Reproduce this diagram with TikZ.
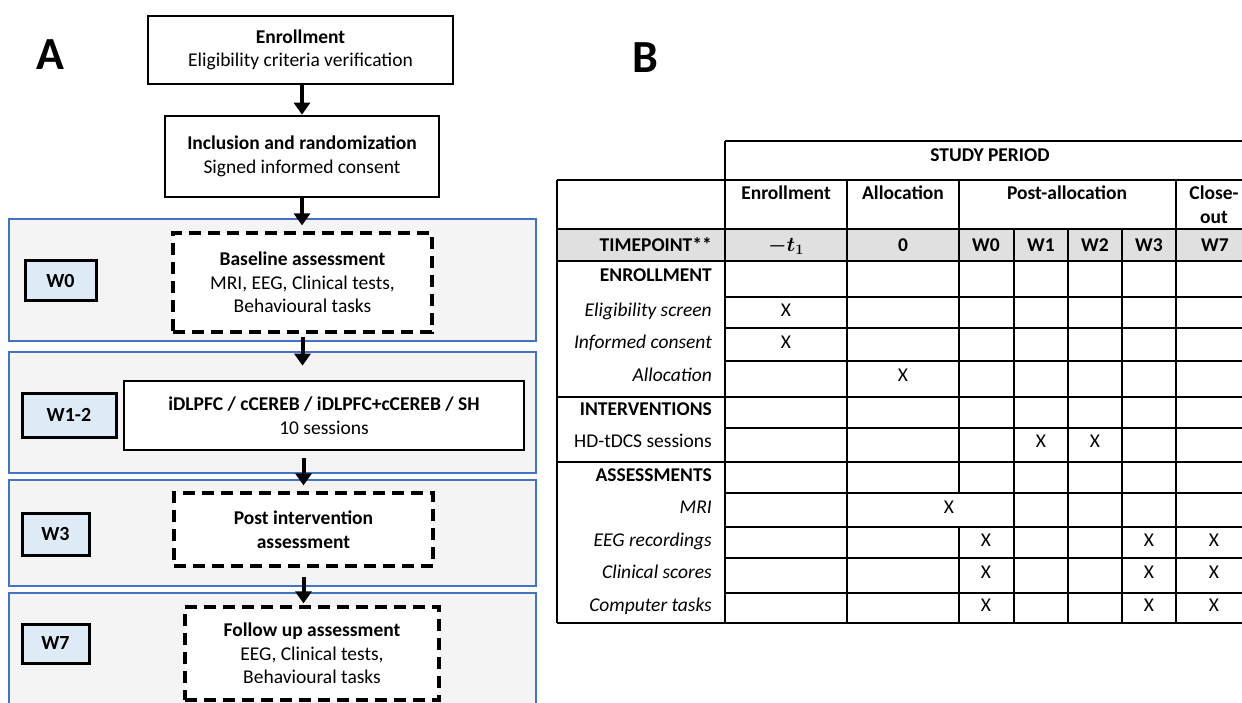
\documentclass[tikz,border=0pt]{standalone}
\usepackage{amsmath}
\usepackage{fontspec}
\setmainfont{Carlito}
\usetikzlibrary{arrows.meta}
\definecolor{panelfill}{HTML}{F4F4F4}
\definecolor{panelblue}{HTML}{4472C4}
\definecolor{wfill}{HTML}{DEEBF7}
\definecolor{tpgray}{HTML}{E0E0E0}
\begin{document}
\begin{tikzpicture}[x=1pt,y=-1pt,
  flowfont/.style={font=\fontsize{19.5}{23.5}\selectfont},
  solidbox/.style={draw, line width=2.7pt, fill=white, align=center, inner sep=0pt, flowfont},
  dashbox/.style={solidbox, line width=3.2pt, dash pattern=on 12pt off 7pt},
  panel/.style={draw=panelblue, line width=2pt, fill=panelfill},
  wlabel/.style={draw, line width=3pt, fill=wfill, inner sep=0pt, font=\fontsize{20}{22}\selectfont\bfseries},
  flowarrow/.style={line width=4pt, -{Triangle[width=16pt,length=12pt]}},
  gridline/.style={line width=2pt},
  tcell/.style={font=\fontsize{19.5}{23}\selectfont, inner sep=0pt, anchor=mid, yshift=-3pt},
  tlabel/.style={tcell, anchor=mid east},
  panelletter/.style={font=\fontsize{46}{50}\selectfont\bfseries, inner sep=0pt}
]
\useasboundingbox (0,0) rectangle (1242,703);

% ---------------- Panel A ----------------
\node[panelletter] (A) at (50,55) {A};

\draw[panel] (9,219) rectangle (536,341);
\draw[panel] (9,352) rectangle (536,473);
\draw[panel] (9,480) rectangle (536,586);
\draw[panel] (9,593) rectangle (536,720);

\node[solidbox, minimum width=305pt, minimum height=68pt] (enr) at (300.5,50)
  {\textbf{Enrollment}\\Eligibility criteria verification};
\node[solidbox, minimum width=274pt, minimum height=81pt] (incl) at (302,156.5)
  {\textbf{Inclusion and randomization}\\Signed informed consent};
\node[dashbox, minimum width=259pt, minimum height=99pt] (base) at (302.5,282.5)
  {\textbf{Baseline assessment}\\MRI, EEG, Clinical tests,\\Behavioural tasks};
\node[solidbox, minimum width=400pt, minimum height=69pt] (inter) at (324,415.5)
  {\textbf{iDLPFC / cCEREB / iDLPFC+cCEREB / SH}\\10 sessions};
\node[dashbox, minimum width=259pt, minimum height=73pt] (post) at (303.5,529.5)
  {\textbf{Post intervention}\\\textbf{assessment}};
\node[dashbox, minimum width=254pt, minimum height=93pt] (fol) at (312,653.5)
  {\textbf{Follow up assessment}\\EEG, Clinical tests,\\Behavioural tasks};

\node[wlabel, minimum width=71pt, minimum height=40pt] (w0) at (60.5,281) {W0};
\node[wlabel, minimum width=94pt, minimum height=44pt] (w12) at (69,415) {W1-2};
\node[wlabel, minimum width=67pt, minimum height=42pt] (w3) at (55.5,534) {W3};
\node[wlabel, minimum width=67pt, minimum height=39pt] (w7) at (55.5,643.5) {W7};

\draw[flowarrow] (enr.south -| incl.north) -- (incl.north);
\draw[flowarrow, shorten >=6pt] (incl.south) -- (incl.south |- base.north);
\draw[flowarrow, shorten <=3pt, shorten >=14pt] (base.south) -- (base.south |- inter.north);
\draw[flowarrow, shorten <=7pt, shorten >=6pt] (inter.south -| post.north) -- (post.north);
\draw[flowarrow, shorten <=9pt, shorten >=2pt] (post.south) -- (post.south |- fol.north);

% ---------------- Panel B ----------------
\node[panelletter] (B) at (645,58) {B};

\fill[tpgray] (557,229) rectangle (1260,261);

% horizontal lines
\foreach \yy in {180,229,261,397,462,623}
  \draw[gridline] (557,\yy) -- (1260,\yy);
\foreach \yy in {141,297,328,361,428,493,527,558,593}
  \draw[gridline] (725,\yy) -- (1260,\yy);
% vertical lines
\draw[gridline] (557,180) -- (557,623);
\draw[gridline] (725,141) -- (725,623);
\draw[gridline] (847,180) -- (847,623);
\draw[gridline] (959,180) -- (959,493);
\draw[gridline] (959,527) -- (959,623);
\foreach \xx in {1014,1068,1122}
  \draw[gridline] (\xx,229) -- (\xx,623);
\draw[gridline] (1176,180) -- (1176,623);

% header texts
\node[tcell] (sp) at (990,156) {\bfseries STUDY PERIOD};
\node[tcell] (hEnr) at (786,194) {\bfseries Enrollment};
\node[tcell] (hAll) at (903,194) {\bfseries Allocation};
\node[tcell] (hPost) at (1067,194) {\bfseries Post-allocation};
\node[tcell] (hClose) at (1214,194) {\bfseries Close-};
\node[tcell] (hOut) at (1214,218) {\bfseries out};

\node[tlabel] (tp) at (712,246) {\bfseries TIMEPOINT**};
\node[tcell] (tpA) at (786,246) {$\boldsymbol{-t_1}$};
\node[tcell] (tpB) at (903,246) {\bfseries 0};
\node[tcell] (tpC) at (986,246) {\bfseries W0};
\node[tcell] (tpD) at (1041,246) {\bfseries W1};
\node[tcell] (tpE) at (1095,246) {\bfseries W2};
\node[tcell] (tpF) at (1149,246) {\bfseries W3};
\node[tcell] (tpG) at (1215,246) {\bfseries W7};

% row labels
\node[tlabel] (r1) at (712,276) {\bfseries ENROLLMENT};
\node[tlabel] (r2) at (712,311) {\itshape Eligibility screen};
\node[tlabel] (r3) at (712,343) {\itshape Informed consent};
\node[tlabel] (r4) at (712,376) {\itshape Allocation};
\node[tlabel] (r5) at (712,410) {\bfseries INTERVENTIONS};
\node[tlabel] (r6) at (712,442) {HD-tDCS sessions};
\node[tlabel] (r7) at (712,476) {\bfseries ASSESSMENTS};
\node[tlabel] (r8) at (712,508) {\itshape MRI};
\node[tlabel] (r9) at (712,541) {\itshape EEG recordings};
\node[tlabel] (r10) at (712,573) {\itshape Clinical scores};
\node[tlabel] (r11) at (712,606) {\itshape Computer tasks};

% marks
\node[tcell] (x1) at (786,311) {X};
\node[tcell] (x2) at (786,343) {X};
\node[tcell] (x3) at (903,376) {X};
\node[tcell] (x4) at (1041,442) {X};
\node[tcell] (x5) at (1095,442) {X};
\node[tcell] (x6) at (949,508) {X};
\foreach \yy [count=\i] in {541,573,606} {
  \node[tcell] (xa\i) at (986,\yy) {X};
  \node[tcell] (xb\i) at (1149,\yy) {X};
  \node[tcell] (xc\i) at (1214,\yy) {X};
}
\end{tikzpicture}
\end{document}
